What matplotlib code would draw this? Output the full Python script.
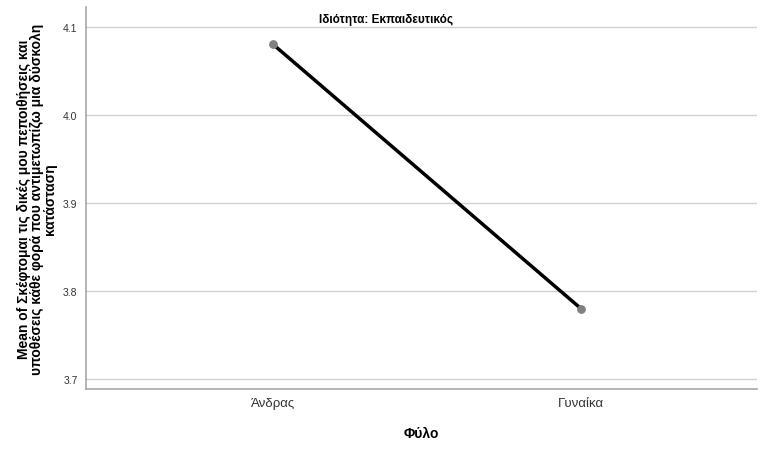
import matplotlib
matplotlib.use("Agg")
import matplotlib.pyplot as plt

categories = ["Άνδρας", "Γυναίκα"]
means = [4.08, 3.78]
y_ticks = [3.7, 3.8, 3.9, 4.0, 4.1]

plt.rcParams['font.family'] = ['Liberation Sans', 'DejaVu Sans']

fig = plt.figure(figsize=(7.6, 4.56), dpi=100)
ax = fig.add_axes([0.113, 0.145, 0.883, 0.837])

x = list(range(len(categories)))
ax.plot(x, means, color="black", linewidth=2.5, zorder=3)
ax.scatter(x, means, color="#808080", s=28, zorder=4)

ax.set_xlim(-0.607, 0.571 + 1)
ax.set_ylim(3.689, 4.122)
ax.set_yticks(y_ticks)
ax.set_yticklabels(["{:.1f}".format(v) for v in y_ticks], fontsize=7.5, color="#333333")
ax.set_xticks(x)
ax.set_xticklabels(categories, fontsize=9.5, color="#333333")
ax.tick_params(length=0, pad=6)

ax.grid(axis="y", color="#d0d0d0", linewidth=1)
ax.set_axisbelow(True)
for s in ["top", "right"]:
    ax.spines[s].set_visible(False)
for s in ["left", "bottom"]:
    ax.spines[s].set_color("#a8a8a8")
    ax.spines[s].set_linewidth(1.2)

ax.set_xlabel("Φύλο", fontsize=10, fontweight="bold", labelpad=12)
ax.set_ylabel("Mean of Σκέφτομαι τις δικές μου πεποιθήσεις και\n"
              "υποθέσεις κάθε φορά που αντιμετωπίζω μια δύσκολη\n"
              "κατάσταση", fontsize=10, fontweight="bold", labelpad=4,
              linespacing=0.95)

ax.text(0.447, 0.985, "Ιδιότητα: Εκπαιδευτικός", transform=ax.transAxes,
        fontsize=8.5, fontweight="bold", ha="center", va="top")

plt.savefig("out.png", dpi=100)
